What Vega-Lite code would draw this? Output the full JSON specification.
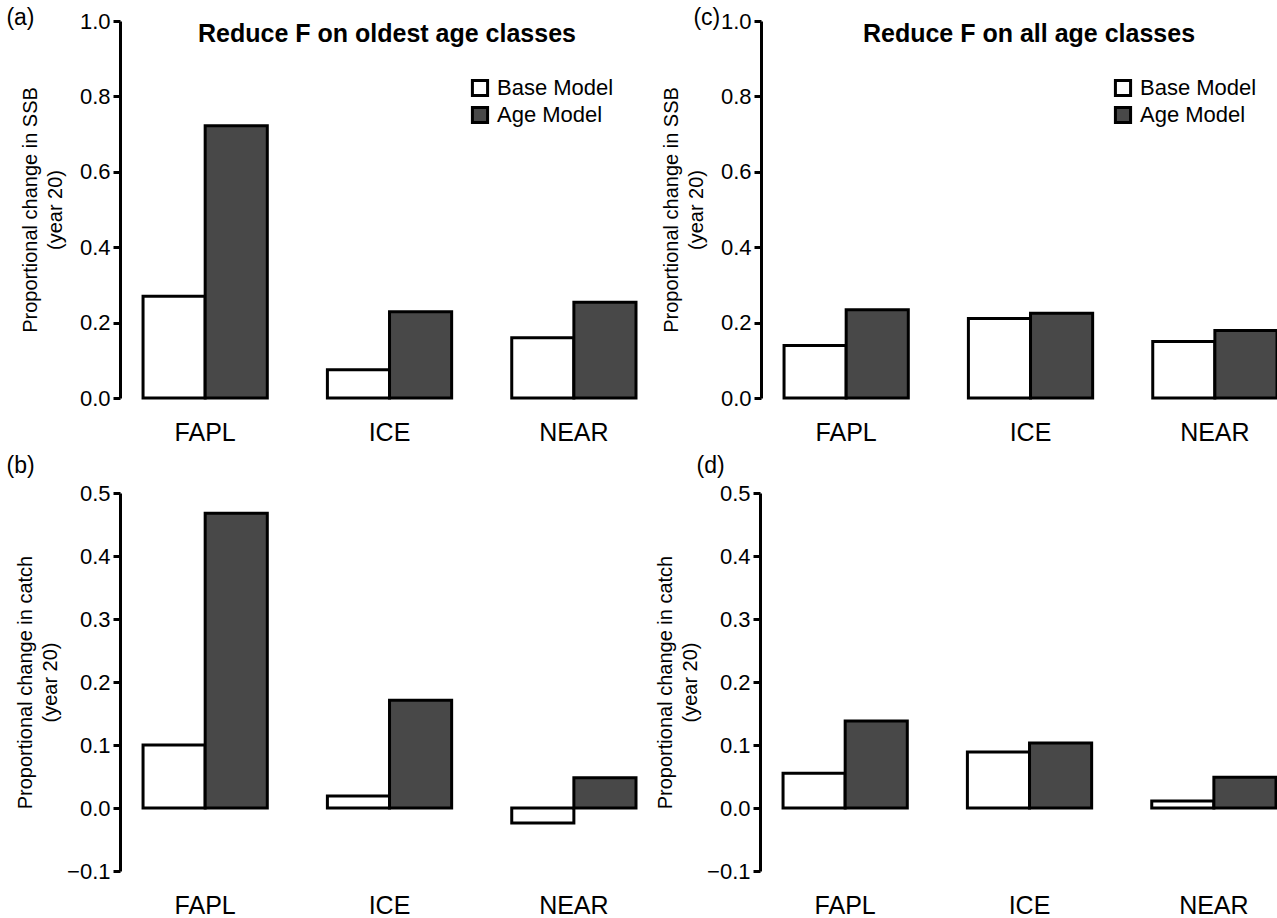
{
  "$schema": "https://vega.github.io/schema/vega-lite/v6.json",
  "padding": {"left": 6, "top": 7, "right": 0, "bottom": 0},
  "config": {
    "font": "Liberation Sans",
    "view": {"stroke": null},
    "axisY": {
      "domainColor": "black", "domainWidth": 3, "tickColor": "black", "tickWidth": 3, "tickSize": 7,
      "labelFontSize": 22, "labelColor": "black", "labelPadding": 3, "grid": false,
      "titleFontSize": 20, "titleFontWeight": "normal", "titleColor": "black", "titleLineHeight": 25, "titlePadding": 14
    },
    "axisX": {
      "domain": false, "ticks": false, "labelFontSize": 25, "labelColor": "black", "labelAngle": 0, "labelPadding": 22, "title": null
    },
    "legend": {
      "symbolType": "square", "symbolSize": 230, "symbolStrokeColor": "black", "symbolStrokeWidth": 3,
      "labelFontSize": 22, "labelColor": "black", "labelOffset": 6, "rowPadding": -1
    },
    "title": {"fontSize": 25, "fontWeight": "bold", "color": "black", "font": "Liberation Sans"}
  },
  "data": {"values": [
    {"panel": "a", "site": "FAPL", "model": "Base Model", "value": 0.270},
    {"panel": "a", "site": "FAPL", "model": "Age Model", "value": 0.722},
    {"panel": "a", "site": "ICE", "model": "Base Model", "value": 0.075},
    {"panel": "a", "site": "ICE", "model": "Age Model", "value": 0.229},
    {"panel": "a", "site": "NEAR", "model": "Base Model", "value": 0.160},
    {"panel": "a", "site": "NEAR", "model": "Age Model", "value": 0.254},
    {"panel": "c", "site": "FAPL", "model": "Base Model", "value": 0.139},
    {"panel": "c", "site": "FAPL", "model": "Age Model", "value": 0.234},
    {"panel": "c", "site": "ICE", "model": "Base Model", "value": 0.211},
    {"panel": "c", "site": "ICE", "model": "Age Model", "value": 0.225},
    {"panel": "c", "site": "NEAR", "model": "Base Model", "value": 0.150},
    {"panel": "c", "site": "NEAR", "model": "Age Model", "value": 0.179},
    {"panel": "b", "site": "FAPL", "model": "Base Model", "value": 0.100},
    {"panel": "b", "site": "FAPL", "model": "Age Model", "value": 0.468},
    {"panel": "b", "site": "ICE", "model": "Base Model", "value": 0.019},
    {"panel": "b", "site": "ICE", "model": "Age Model", "value": 0.171},
    {"panel": "b", "site": "NEAR", "model": "Base Model", "value": -0.024},
    {"panel": "b", "site": "NEAR", "model": "Age Model", "value": 0.048},
    {"panel": "d", "site": "FAPL", "model": "Base Model", "value": 0.055},
    {"panel": "d", "site": "FAPL", "model": "Age Model", "value": 0.138},
    {"panel": "d", "site": "ICE", "model": "Base Model", "value": 0.089},
    {"panel": "d", "site": "ICE", "model": "Age Model", "value": 0.103},
    {"panel": "d", "site": "NEAR", "model": "Base Model", "value": 0.011},
    {"panel": "d", "site": "NEAR", "model": "Age Model", "value": 0.049}
  ]},
  "resolve": {"scale": {"x": "independent", "y": "independent", "fill": "independent", "xOffset": "independent"}, "legend": {"fill": "independent"}},
  "spacing": 10,
  "vconcat": [
    {
      "hconcat": [
        {
          "title": {"text": "(a)", "anchor": "start", "frame": "bounds", "fontWeight": "normal", "fontSize": 23, "offset": -20, "dx": -14},
          "vconcat": [
            {
              "width": 516, "height": 377,
              "title": {"text": "Reduce F on oldest age classes", "offset": -37, "anchor": "middle", "dx": 9},
              "transform": [{"filter": "datum.panel === 'a'"}],
              "mark": {"type": "bar", "stroke": "black", "strokeWidth": 3},
              "encoding": {
                "x": {"field": "site", "type": "nominal", "sort": ["FAPL", "ICE", "NEAR"], "scale": {"paddingInner": 0.326, "paddingOuter": 0.0625, "align": 1}},
                "xOffset": {"field": "model", "type": "nominal", "sort": ["Base Model", "Age Model"], "scale": {"paddingInner": 0, "paddingOuter": 0}},
                "y": {"field": "value", "type": "quantitative", "scale": {"domain": [0, 1], "nice": false}, "axis": {"values": [0, 0.2, 0.4, 0.6, 0.8, 1.0], "format": ".1f", "title": ["Proportional change in SSB", "(year 20)"]}},
                "fill": {"field": "model", "type": "nominal", "scale": {"domain": ["Base Model", "Age Model"], "range": ["white", "#484848"]}, "legend": {"title": null, "orient": "none", "legendX": 349, "legendY": 56}}
              }
            }
          ]
        },
        {
          "title": {"text": "(c)", "anchor": "start", "frame": "bounds", "fontWeight": "normal", "fontSize": 23, "offset": -20, "dx": 32},
          "vconcat": [
            {
              "width": 516, "height": 377,
              "title": {"text": "Reduce F on all age classes", "offset": -37, "anchor": "middle", "dx": 10},
              "transform": [{"filter": "datum.panel === 'c'"}],
              "mark": {"type": "bar", "stroke": "black", "strokeWidth": 3},
              "encoding": {
                "x": {"field": "site", "type": "nominal", "sort": ["FAPL", "ICE", "NEAR"], "scale": {"paddingInner": 0.326, "paddingOuter": 0.0625, "align": 1}},
                "xOffset": {"field": "model", "type": "nominal", "sort": ["Base Model", "Age Model"], "scale": {"paddingInner": 0, "paddingOuter": 0}},
                "y": {"field": "value", "type": "quantitative", "scale": {"domain": [0, 1], "nice": false}, "axis": {"values": [0, 0.2, 0.4, 0.6, 0.8, 1.0], "format": ".1f", "title": ["Proportional change in SSB", "(year 20)"]}},
                "fill": {"field": "model", "type": "nominal", "scale": {"domain": ["Base Model", "Age Model"], "range": ["white", "#484848"]}, "legend": {"title": null, "orient": "none", "legendX": 351, "legendY": 56}}
              }
            }
          ]
        }
      ],
      "spacing": 23,
      "resolve": {"scale": {"x": "independent", "y": "independent", "fill": "independent", "xOffset": "independent"}, "legend": {"fill": "independent"}}
    },
    {
      "hconcat": [
        {
          "title": {"text": "(b)", "anchor": "start", "frame": "bounds", "fontWeight": "normal", "fontSize": 23, "offset": 4, "dx": -9},
          "vconcat": [
            {
              "width": 516, "height": 378,
              "transform": [{"filter": "datum.panel === 'b'"}],
              "mark": {"type": "bar", "stroke": "black", "strokeWidth": 3},
              "encoding": {
                "x": {"field": "site", "type": "nominal", "sort": ["FAPL", "ICE", "NEAR"], "scale": {"paddingInner": 0.326, "paddingOuter": 0.0625, "align": 1}},
                "xOffset": {"field": "model", "type": "nominal", "sort": ["Base Model", "Age Model"], "scale": {"paddingInner": 0, "paddingOuter": 0}},
                "y": {"field": "value", "type": "quantitative", "scale": {"domain": [-0.1, 0.5], "nice": false, "zero": false}, "axis": {"values": [-0.1, 0, 0.1, 0.2, 0.3, 0.4, 0.5], "format": ".1f", "titlePadding": 6, "title": ["Proportional change in catch", "(year 20)"]}},
                "fill": {"field": "model", "type": "nominal", "scale": {"domain": ["Base Model", "Age Model"], "range": ["white", "#484848"]}, "legend": null}
              }
            }
          ]
        },
        {
          "title": {"text": "(d)", "anchor": "start", "frame": "bounds", "fontWeight": "normal", "fontSize": 23, "offset": 4, "dx": 41},
          "vconcat": [
            {
              "width": 516, "height": 378,
              "transform": [{"filter": "datum.panel === 'd'"}],
              "mark": {"type": "bar", "stroke": "black", "strokeWidth": 3},
              "encoding": {
                "x": {"field": "site", "type": "nominal", "sort": ["FAPL", "ICE", "NEAR"], "scale": {"paddingInner": 0.326, "paddingOuter": 0.0625, "align": 1}},
                "xOffset": {"field": "model", "type": "nominal", "sort": ["Base Model", "Age Model"], "scale": {"paddingInner": 0, "paddingOuter": 0}},
                "y": {"field": "value", "type": "quantitative", "scale": {"domain": [-0.1, 0.5], "nice": false, "zero": false}, "axis": {"values": [-0.1, 0, 0.1, 0.2, 0.3, 0.4, 0.5], "format": ".1f", "titlePadding": 6, "title": ["Proportional change in catch", "(year 20)"]}},
                "fill": {"field": "model", "type": "nominal", "scale": {"domain": ["Base Model", "Age Model"], "range": ["white", "#484848"]}, "legend": null}
              }
            }
          ]
        }
      ],
      "spacing": 17,
      "resolve": {"scale": {"x": "independent", "y": "independent", "fill": "independent", "xOffset": "independent"}, "legend": {"fill": "independent"}}
    }
  ]
}
